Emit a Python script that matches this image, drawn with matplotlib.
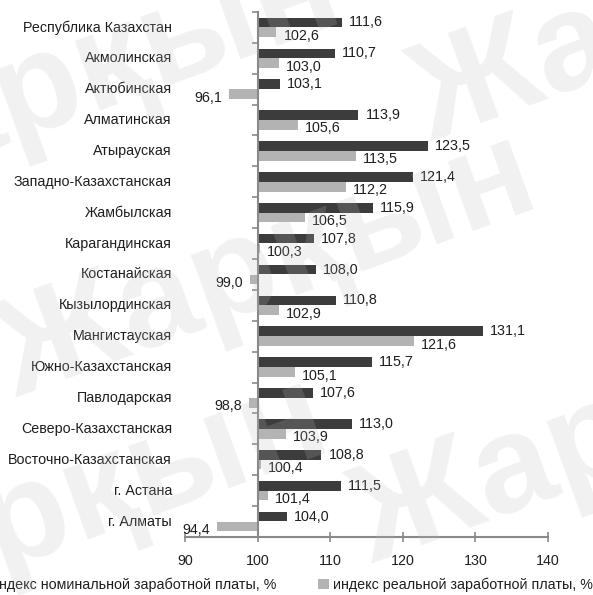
"""Индексы номинальной и реальной заработной платы по регионам."""

import numpy as np
from matplotlib import pyplot as plt

plt.rcParams['font.family'] = ['Liberation Sans', 'DejaVu Sans']

regions: list = ['Республика Казахстан', 'Акмолинская', 'Актюбинская', 'Алматинская',
                 'Атырауская', 'Западно-Казахстанская', 'Жамбылская', 'Карагандинская',
                 'Костанайская', 'Кызылординская', 'Мангистауская', 'Южно-Казахстанская',
                 'Павлодарская', 'Северо-Казахстанская', 'Восточно-Казахстанская',
                 'г. Астана', 'г. Алматы']
# индекс номинальной заработной платы
nominal: list = [111.6, 110.7, 103.1, 113.9, 123.5, 121.4, 115.9, 107.8, 108.0,
                 110.8, 131.1, 115.7, 107.6, 113.0, 108.8, 111.5, 104.0]
# индекс реальной заработной платы
real: list = [102.6, 103.0, 96.1, 105.6, 113.5, 112.2, 106.5, 100.3, 99.0,
              102.9, 121.6, 105.1, 98.8, 103.9, 100.4, 101.4, 94.4]
xticks: list = [90, 100, 110, 120, 130, 140]
legend_labels: list = ['индекс номинальной заработной платы, %',
                       'индекс реальной заработной платы, %']

dark = '#3c3c3c'
light = '#b3b3b3'
axis_col = '#898989'
txt = '#1e1e1e'
base = 100
fs = 10.3

fig = plt.figure(figsize=(5.93, 5.95), dpi=100)
ax = fig.add_axes([0.312, 0.0975, 0.612, 0.8825])

y = np.arange(len(regions))
h = 0.31
nom = np.array(nominal)
rea = np.array(real)
b1 = ax.barh(y - 0.16, nom - base, left=base, height=h, color=dark, label=legend_labels[0])
b2 = ax.barh(y + 0.16, rea - base, left=base, height=h, color=light, label=legend_labels[1])

def lab(v):
    return f'{v:.1f}'.replace('.', ',')

for yi, v in zip(y, nominal):
    ax.annotate(lab(v), (v, yi - 0.16), xytext=(5, 0), textcoords='offset points',
                ha='left', va='center', fontsize=fs, color=txt)
for yi, v in zip(y, real):
    if v >= base:
        ax.annotate(lab(v), (v, yi + 0.16), xytext=(5, -2.5), textcoords='offset points',
                    ha='left', va='center', fontsize=fs, color=txt)
    else:
        ax.annotate(lab(v), (v, yi + 0.16), xytext=(-5, -2.5), textcoords='offset points',
                    ha='right', va='center', fontsize=fs, color=txt)

# подписи регионов слева
for yi, name in zip(y, regions):
    ax.text(-0.036, yi, name, transform=ax.get_yaxis_transform(), ha='right',
            va='center', fontsize=fs, color=txt)

ax.set_xlim(90, 140)
ax.set_ylim(len(regions) - 0.5, -0.5)
ax.set_xticks(xticks)
ax.set_yticks(np.arange(len(regions) + 1) - 0.5)
ax.set_yticklabels([])
ax.tick_params(axis='x', direction='inout', length=7, width=1.2, color=axis_col,
               labelsize=fs, labelcolor=txt, pad=9)
ax.tick_params(axis='y', direction='out', length=4.5, width=1.2, color=axis_col)

for s in ['top', 'right']:
    ax.spines[s].set_visible(False)
ax.spines['left'].set_position(('data', base))
ax.spines['left'].set_color(axis_col)
ax.spines['bottom'].set_color(axis_col)
ax.spines['left'].set_linewidth(1.5)
ax.spines['bottom'].set_linewidth(1.5)

fig.legend(handles=[b1, b2], loc='center', bbox_to_anchor=(0.48, 0.017), ncol=2,
           frameon=False, fontsize=fs, handlelength=0.75, handleheight=0.75,
           handletextpad=0.3, columnspacing=2.9, labelcolor=txt)

# водяной знак
wm = dict(fontsize=100, fontweight='bold', color='#bcbcbc', alpha=0.2, rotation=20,
          ha='center', va='center', zorder=10)
for wx, wy in [(0.12, 0.86), (0.45, 0.55), (0.1, 0.14), (1.05, 0.27), (1.15, 0.98)]:
    fig.text(wx, wy, 'Жарқын', **wm)

plt.savefig('out.png')
